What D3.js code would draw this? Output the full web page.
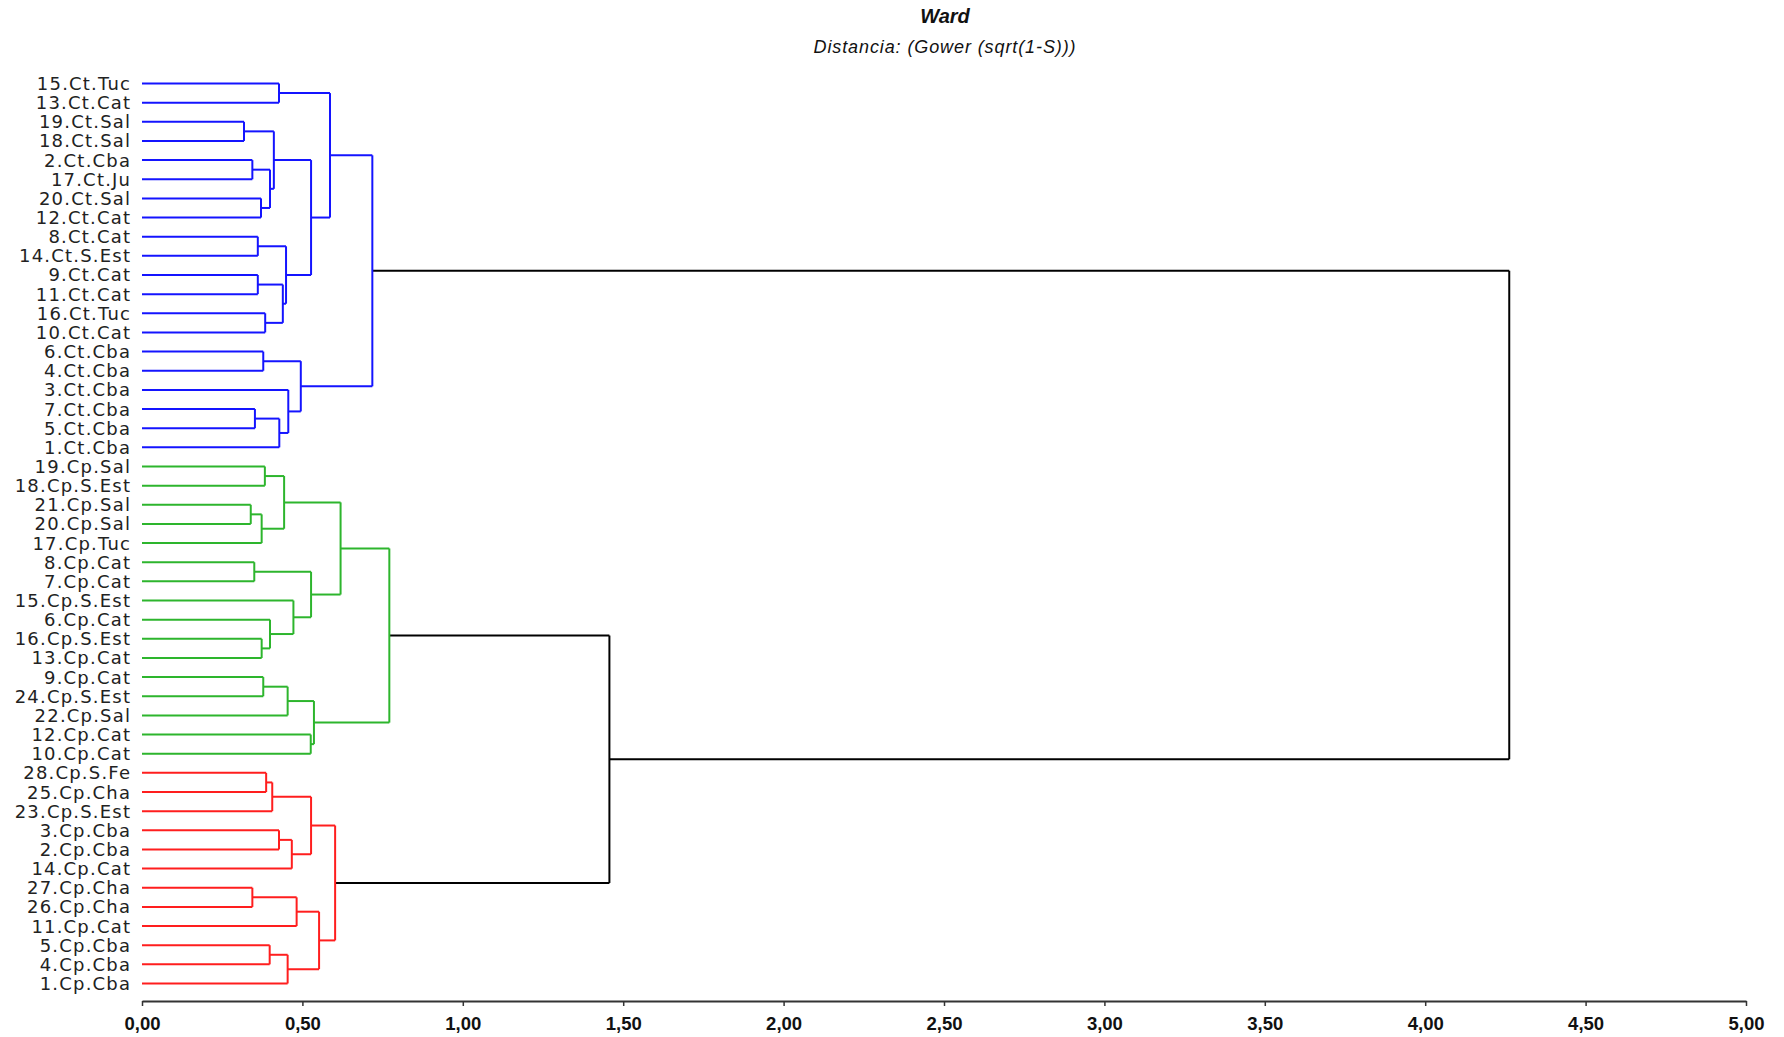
<!DOCTYPE html>
<html>
<head>
<meta charset="utf-8">
<script src="https://cdn.jsdelivr.net/npm/d3@7"></script>
<style>
  html, body { margin: 0; padding: 0; background: #fff; }
  svg { display: block; }
</style>
</head>
<body>
<svg id="chart" width="1784" height="1037"></svg>
<script>
// ---------------- DATA ----------------
const chartTitle = "Ward";
const chartSubtitle = "Distancia: (Gower (sqrt(1-S)))";

const leafLabels = [
  "15.Ct.Tuc","13.Ct.Cat","19.Ct.Sal","18.Ct.Sal","2.Ct.Cba","17.Ct.Ju","20.Ct.Sal","12.Ct.Cat",
  "8.Ct.Cat","14.Ct.S.Est","9.Ct.Cat","11.Ct.Cat","16.Ct.Tuc","10.Ct.Cat","6.Ct.Cba","4.Ct.Cba",
  "3.Ct.Cba","7.Ct.Cba","5.Ct.Cba","1.Ct.Cba",
  "19.Cp.Sal","18.Cp.S.Est","21.Cp.Sal","20.Cp.Sal","17.Cp.Tuc","8.Cp.Cat","7.Cp.Cat","15.Cp.S.Est",
  "6.Cp.Cat","16.Cp.S.Est","13.Cp.Cat","9.Cp.Cat","24.Cp.S.Est","22.Cp.Sal","12.Cp.Cat","10.Cp.Cat",
  "28.Cp.S.Fe","25.Cp.Cha","23.Cp.S.Est","3.Cp.Cba","2.Cp.Cba","14.Cp.Cat","27.Cp.Cha","26.Cp.Cha",
  "11.Cp.Cat","5.Cp.Cba","4.Cp.Cba","1.Cp.Cba"
];

// merges: id, left child, right child, fusion distance
const mergeIds = [
  "m1","m2","m3","m4","m5","m6","m7","m8","m9","m10","m11","m12","m13","m14","m15","m16","m17","m18","m19",
  "g1","g2","g3","g4","g5","g6","g7","g8","g9","g10","g11","g12","g13","g14","g15",
  "r1","r2","r3","r4","r5","r6","r7","r8","r9","r10","r11",
  "t1","t2"
];
const mergeLeft = [
  "15.Ct.Tuc","19.Ct.Sal","2.Ct.Cba","20.Ct.Sal","m3","m2","8.Ct.Cat","9.Ct.Cat","16.Ct.Tuc","m8","m7","m6","m1",
  "6.Ct.Cba","7.Ct.Cba","m15","3.Ct.Cba","m14","m13",
  "19.Cp.Sal","21.Cp.Sal","g2","g1","8.Cp.Cat","16.Cp.S.Est","6.Cp.Cat","15.Cp.S.Est","g5","g4",
  "9.Cp.Cat","g11","12.Cp.Cat","g12","g10",
  "28.Cp.S.Fe","r1","3.Cp.Cba","r3","r2","27.Cp.Cha","r6","5.Cp.Cba","r8","r7","r5",
  "g15","m19"
];
const mergeRight = [
  "13.Ct.Cat","18.Ct.Sal","17.Ct.Ju","12.Ct.Cat","m4","m5","14.Ct.S.Est","11.Ct.Cat","10.Ct.Cat","m9","m10","m11","m12",
  "4.Ct.Cba","5.Ct.Cba","1.Ct.Cba","m16","m17","m18",
  "18.Cp.S.Est","20.Cp.Sal","17.Cp.Tuc","g3","7.Cp.Cat","13.Cp.Cat","g6","g7","g8","g9",
  "24.Cp.S.Est","22.Cp.Sal","10.Cp.Cat","g13","g14",
  "25.Cp.Cha","23.Cp.S.Est","2.Cp.Cba","14.Cp.Cat","r4","26.Cp.Cha","11.Cp.Cat","4.Cp.Cba","1.Cp.Cba","r9","r10",
  "r11","t1"
];
const mergeHeight = [
  0.427,0.318,0.344,0.371,0.399,0.411,0.361,0.361,0.384,0.439,0.449,0.527,0.586,
  0.378,0.352,0.428,0.456,0.495,0.718,
  0.383,0.339,0.373,0.443,0.350,0.373,0.399,0.472,0.527,0.619,
  0.378,0.454,0.526,0.536,0.771,
  0.387,0.406,0.427,0.467,0.527,0.344,0.482,0.398,0.454,0.552,0.602,
  1.457,4.262
];

const clusterCut = 1.0;
const clusterColors = ["#1414ff", "#2db52d", "#ff1e1e"];
const tickValues = [0, 0.5, 1, 1.5, 2, 2.5, 3, 3.5, 4, 4.5, 5];
const tickLabels = ["0,00","0,50","1,00","1,50","2,00","2,50","3,00","3,50","4,00","4,50","5,00"];

// ---------------- BUILD TREE ----------------
const nodes = new Map();
leafLabels.forEach(l => nodes.set(l, { id: l, h: 0, leaf: true, children: [] }));
mergeIds.forEach((id, i) => {
  const n = { id, h: mergeHeight[i], leaf: false, children: [nodes.get(mergeLeft[i]), nodes.get(mergeRight[i])] };
  n.children.forEach(c => c.parent = n);
  nodes.set(id, n);
});
const root = nodes.get(mergeIds[mergeIds.length - 1]);

// ---------------- SCALES ----------------
const svg = d3.select("#chart");
const x = d3.scaleLinear().domain([0, 5]).range([142, 1746]);
const y = d3.scalePoint().domain(leafLabels).range([83.5, 983.5]);

function assignY(n) {
  if (n.leaf) { n.y = y(n.id); return n.y; }
  const ys = n.children.map(assignY);
  n.y = (ys[0] + ys[1]) / 2;
  return n.y;
}
assignY(root);

// cluster colours
let clusterIdx = 0;
function assignColor(n, col) {
  if (col == null && n.h < clusterCut) { col = clusterColors[clusterIdx++ % clusterColors.length]; }
  n.color = col || "#000";
  n.children.forEach(c => assignColor(c, col));
}
assignColor(root, null);

// ---------------- DRAW ----------------
const g = svg.append("g").attr("fill", "none").attr("stroke-width", 2);

function draw(n) {
  if (!n.leaf) {
    g.append("line")
      .attr("x1", x(n.h)).attr("x2", x(n.h))
      .attr("y1", n.children[0].y).attr("y2", n.children[1].y)
      .attr("stroke", n.color);
    n.children.forEach(c => {
      g.append("line")
        .attr("x1", x(c.h)).attr("x2", x(n.h))
        .attr("y1", c.y).attr("y2", c.y)
        .attr("stroke", n.h < clusterCut ? n.color : "#000");
      draw(c);
    });
  }
}
draw(root);

// leaf labels
svg.append("g").selectAll("text").data(leafLabels).join("text")
  .attr("x", 130 + 1.2)
  .attr("y", d => y(d) + 6.5)
  .attr("text-anchor", "end")
  .attr("font-family", "'DejaVu Sans', sans-serif")
  .attr("font-size", 18)
  .attr("letter-spacing", 1.2)
  .attr("fill", "#222")
  .text(d => d);

// axis
const axis = d3.axisBottom(x)
  .tickValues(tickValues)
  .tickFormat((d, i) => tickLabels[i])
  .tickSizeInner(5)
  .tickSizeOuter(0);
const ax = svg.append("g").attr("transform", "translate(0,1001)").call(axis);
ax.select(".domain").attr("stroke", "#333").attr("stroke-width", 2);
ax.selectAll(".tick line").attr("stroke", "#333").attr("stroke-width", 1.5);
ax.selectAll(".tick text")
  .attr("y", 29)
  .attr("dy", 0)
  .attr("font-family", "'Liberation Sans', Arial, sans-serif")
  .attr("font-weight", "bold")
  .attr("font-size", 18.5)
  .attr("fill", "#111");

// titles
svg.append("text")
  .attr("x", 945).attr("y", 23)
  .attr("text-anchor", "middle")
  .attr("font-family", "'Liberation Sans', Arial, sans-serif")
  .attr("font-weight", "bold").attr("font-style", "italic")
  .attr("font-size", 20)
  .attr("fill", "#111")
  .text(chartTitle);
svg.append("text")
  .attr("x", 945).attr("y", 53)
  .attr("text-anchor", "middle")
  .attr("font-family", "'Liberation Sans', Arial, sans-serif")
  .attr("font-style", "italic")
  .attr("font-size", 18)
  .attr("letter-spacing", 0.9)
  .attr("fill", "#111")
  .text(chartSubtitle);
</script>
</body>
</html>
